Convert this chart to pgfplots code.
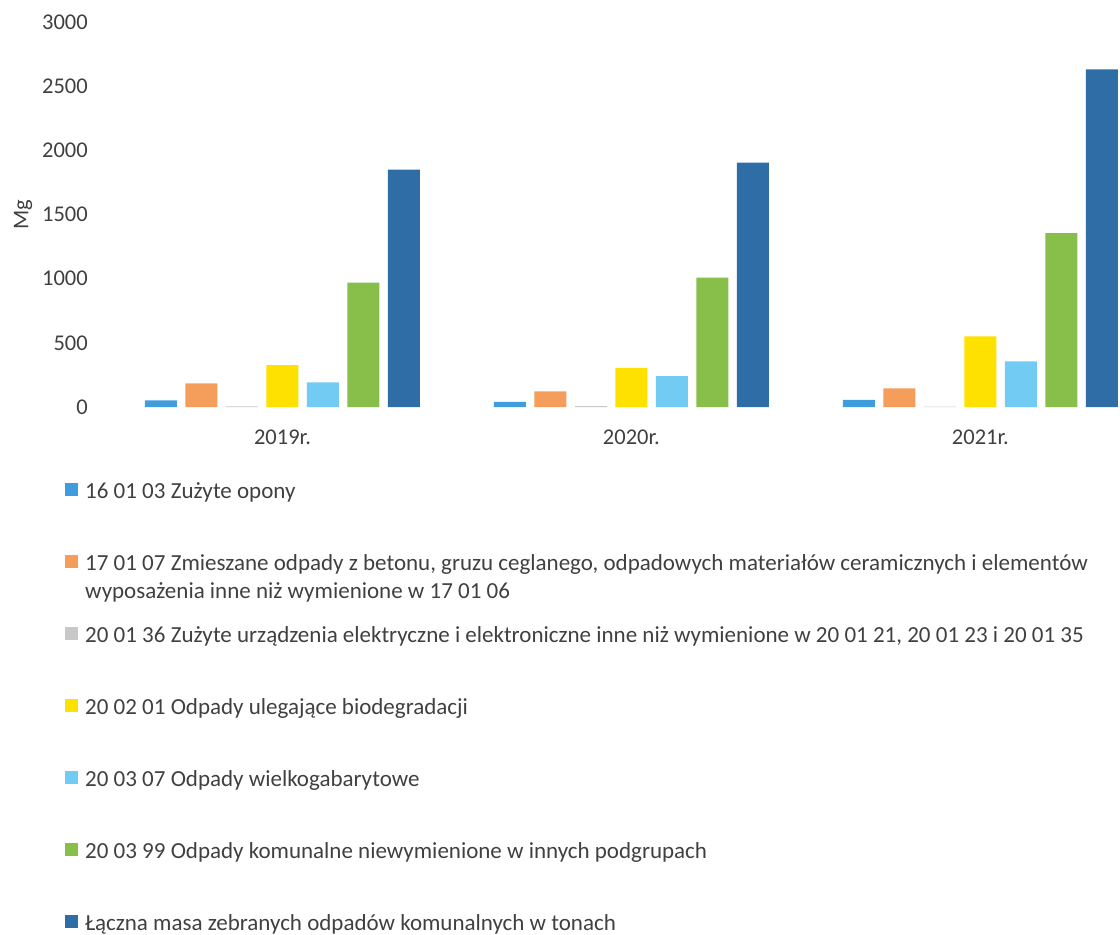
\documentclass[border=0pt]{standalone}
\usepackage{pgfplots}
\pgfplotsset{compat=1.18}
\usepackage{fontspec}
\setmainfont{Carlito}
\definecolor{txt}{HTML}{404040}
\definecolor{c1}{HTML}{3F9DDD}
\definecolor{c2}{HTML}{F59D5A}
\definecolor{c3}{HTML}{C8C8C8}
\definecolor{c4}{HTML}{FFE100}
\definecolor{c5}{HTML}{72CBF3}
\definecolor{c6}{HTML}{88BE4A}
\definecolor{c7}{HTML}{2E6DA6}
\begin{document}
\begin{tikzpicture}[x=1pt,y=1pt]
\useasboundingbox (0,0) rectangle (1120,-935);
\begin{axis}[
  at={(108pt,-407pt)}, anchor=south west,
  width=1012pt, height=385pt, scale only axis,
  xmin=-0.5, xmax=2.4, ymin=0, ymax=3000,
  axis line style={draw=none},
  tick style={draw=none},
  major tick length=0pt,
  ytick={0,500,...,3000},
  xtick={0,1,2},
  xticklabels={2019r.,2020r.,2021r.},
  /pgf/number format/assume math mode=true,
  /pgf/number format/set thousands separator={},
  ticklabel style={font=\fontsize{22.5}{26}\selectfont, text=txt},
  yticklabel style={anchor=east, inner sep=0pt, xshift=-20pt},
  xticklabel style={anchor=north, inner sep=0pt, yshift=-23pt},
  ylabel={Mg},
  every axis y label/.style={at={(axis description cs:-0.084,0.5)}, rotate=90, anchor=center, font=\fontsize{22.5}{26}\selectfont, text=txt},
  ybar=8.5pt, bar width=32pt,
  legend style={at={(-0.0425,-0.1844)}, anchor=north west, draw=none, fill=none, inner sep=0pt, row sep=0pt, column sep=7pt,
    nodes={inner sep=0pt, text=txt, text height=20pt, text depth=52pt}, font=\fontsize{23}{28}\selectfont},
  legend cell align=left,
  legend image code/.code={\draw[#1, draw=none] (0pt,18.5pt) rectangle (13pt,31.5pt);},
]
\addplot[fill=c1, draw=none] coordinates {(0,51) (1,40) (2,55)};
\addlegendentry{16 01 03 Zużyte opony}
\addplot[fill=c2, draw=none] coordinates {(0,184) (1,122) (2,145)};
\addlegendentry{\smash{\begin{tabular}[t]{@{}l@{}}17 01 07 Zmieszane odpady z betonu, gruzu ceglanego, odpadowych materiałów ceramicznych i elementów\\wyposażenia inne niż wymienione w 17 01 06\end{tabular}}}
\addplot[fill=c3, draw=none] coordinates {(0,5) (1,6) (2,3)};
\addlegendentry{20 01 36 Zużyte urządzenia elektryczne i elektroniczne inne niż wymienione w 20 01 21, 20 01 23 i 20 01 35}
\addplot[fill=c4, draw=none] coordinates {(0,326) (1,305) (2,550)};
\addlegendentry{20 02 01 Odpady ulegające biodegradacji}
\addplot[fill=c5, draw=none] coordinates {(0,192) (1,240) (2,355)};
\addlegendentry{20 03 07 Odpady wielkogabarytowe}
\addplot[fill=c6, draw=none] coordinates {(0,970) (1,1009) (2,1355)};
\addlegendentry{20 03 99 Odpady komunalne niewymienione w innych podgrupach}
\addplot[fill=c7, draw=none] coordinates {(0,1849) (1,1904) (2,2630)};
\addlegendentry{Łączna masa zebranych odpadów komunalnych w tonach}
\end{axis}
\end{tikzpicture}
\end{document}
